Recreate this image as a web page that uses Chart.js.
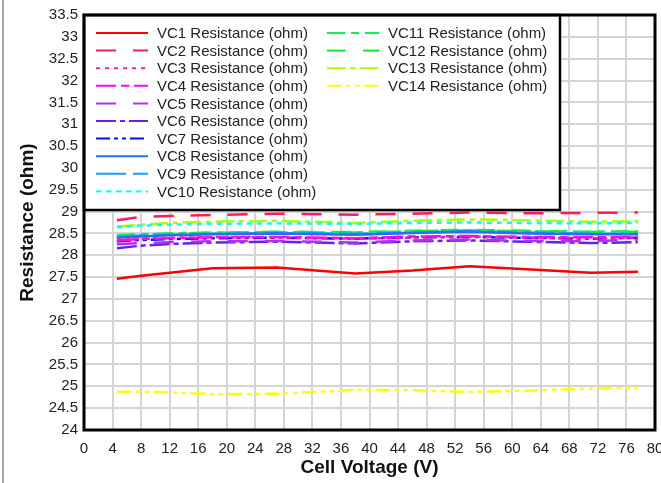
<!DOCTYPE html>
<html>
<head>
<meta charset="utf-8">
<script src="https://cdn.jsdelivr.net/npm/chart.js@4"></script>
<style>
  html, body { margin: 0; padding: 0; background: #fff; }
  #wrap { width: 661px; height: 483px; position: relative; }
</style>
</head>
<body>
<div id="wrap"><canvas id="chartResistencia" width="661" height="483"></canvas></div>
<script>
// voltajes de celda (eje x)
const voltajes = [4.6, 8, 12, 18, 27, 38, 46, 54, 62, 71, 77.6];

const vc1 = [27.46, 27.53, 27.6, 27.7, 27.72, 27.58, 27.65, 27.75, 27.68, 27.6, 27.62];
const vc2 = [28.8, 28.88, 28.9, 28.92, 28.95, 28.93, 28.95, 28.98, 28.96, 28.97, 28.98];
const vc3 = [28.36, 28.38, 28.4, 28.42, 28.41, 28.38, 28.4, 28.43, 28.4, 28.39, 28.4];
const vc4 = [28.34, 28.37, 28.39, 28.41, 28.42, 28.39, 28.43, 28.44, 28.42, 28.41, 28.42];
const vc5 = [28.25, 28.28, 28.3, 28.32, 28.33, 28.29, 28.34, 28.36, 28.33, 28.32, 28.36];
const vc6 = [28.16, 28.22, 28.26, 28.29, 28.31, 28.27, 28.32, 28.34, 28.31, 28.28, 28.3];
const vc7 = [28.32, 28.35, 28.37, 28.39, 28.4, 28.38, 28.41, 28.42, 28.4, 28.38, 28.4];
const vc8 = [28.4, 28.43, 28.46, 28.48, 28.5, 28.47, 28.51, 28.54, 28.5, 28.48, 28.48];
const vc9 = [28.42, 28.45, 28.47, 28.49, 28.51, 28.49, 28.52, 28.55, 28.52, 28.49, 28.49];
const vc10 = [28.64, 28.68, 28.7, 28.72, 28.73, 28.72, 28.74, 28.75, 28.74, 28.73, 28.74];
const vc11 = [28.46, 28.48, 28.5, 28.52, 28.53, 28.52, 28.55, 28.57, 28.55, 28.54, 28.55];
const vc12 = [28.44, 28.47, 28.49, 28.51, 28.54, 28.53, 28.56, 28.58, 28.56, 28.53, 28.53];
const vc13 = [28.66, 28.7, 28.74, 28.77, 28.79, 28.74, 28.79, 28.82, 28.8, 28.77, 28.78];
const vc14 = [24.87, 24.88, 24.86, 24.82, 24.83, 24.92, 24.91, 24.87, 24.9, 24.95, 24.97];

const series = [vc1, vc2, vc3, vc4, vc5, vc6, vc7, vc8, vc9, vc10, vc11, vc12, vc13, vc14];
const nombres = series.map((s, i) => `VC${i + 1} Resistance (ohm)`);

const colores = ['#ff0000', '#ff1a5e', '#ff1ab0', '#ff00ff', '#b030f0', '#6a1cff', '#0010ff',
                 '#2a6cff', '#10a0ff', '#00ffff', '#10f050', '#00f020', '#a8ff00', '#ffff00'];
const guiones = [[], [20, 17], [4, 5], [20, 5, 8, 5], [20, 17], [20, 4, 5, 4], [14, 4, 4, 4, 4, 4],
                 [], [30, 7], [5, 5], [18, 6, 8, 6], [18, 18], [18, 5, 5, 5], [14, 5, 4, 5, 4, 5]];

const fuente = '"Liberation Sans", Arial, sans-serif';

const canvas = document.getElementById('chartResistencia');
const ctx = canvas.getContext('2d');

const datasets = series.map((s, i) => ({
    label: nombres[i],
    data: s.map((v, j) => ({ x: voltajes[j], y: v })),
    borderColor: colores[i],
    backgroundColor: colores[i],
    borderWidth: 2.5,
    borderDash: guiones[i],
    pointRadius: 0,
    fill: false,
    tension: 0
}));

const fondoYmarco = {
    id: 'fondoYmarco',
    beforeDraw(chart) {
        const c = chart.ctx;
        c.save();
        c.fillStyle = '#fff';
        c.fillRect(0, 0, chart.width, chart.height);
        c.strokeStyle = '#888';
        c.lineWidth = 1.5;
        c.beginPath();
        c.moveTo(3, 0);
        c.lineTo(3, chart.height);
        c.stroke();
        c.restore();
    },
    afterDraw(chart) {
        const a = chart.chartArea;
        const c = chart.ctx;
        c.save();
        // leyenda
        const lx = a.left, ly = a.top, lw = 560 - a.left, lh = 210 - a.top;
        c.fillStyle = '#fff';
        c.fillRect(lx, ly, lw, lh);
        c.strokeStyle = '#000';
        c.lineWidth = 2.5;
        c.strokeRect(lx, ly, lw, lh);
        c.font = '15px ' + fuente;
        c.textBaseline = 'middle';
        chart.data.datasets.forEach((d, i) => {
            const col = i < 10 ? 0 : 1;
            const row = i < 10 ? i : i - 10;
            const y = 33 + row * 17.6;
            const x0 = col === 0 ? 96 : 327;
            c.strokeStyle = d.borderColor;
            c.lineWidth = 2;
            c.setLineDash(d.borderDash);
            c.beginPath();
            c.moveTo(x0, y);
            c.lineTo(x0 + 52, y);
            c.stroke();
            c.setLineDash([]);
            c.fillStyle = '#222';
            c.fillText(d.label, x0 + 61, y + 1);
        });
        // marco del area
        c.strokeStyle = '#000';
        c.lineWidth = 3;
        c.strokeRect(a.left, a.top, a.right - a.left, a.bottom - a.top);
        c.restore();
    }
};

const chartResistencia = new Chart(ctx, {
    type: 'line',
    data: { datasets: datasets },
    options: {
        responsive: false,
        animation: false,
        layout: { padding: { top: 15, right: 6, left: 0, bottom: 0 } },
        plugins: { legend: { display: false }, tooltip: { enabled: false } },
        scales: {
            x: {
                type: 'linear',
                min: 0,
                max: 80,
                ticks: { stepSize: 4, color: '#222', padding: 10, maxRotation: 0, font: { size: 15, family: fuente } },
                grid: { color: '#d4d4d4', lineWidth: 2, drawTicks: false },
                border: { display: false },
                title: { display: true, text: 'Cell Voltage (V)', color: '#111', padding: { top: 0, bottom: 4 },
                         font: { size: 19, weight: 'bold', family: fuente } },
                afterFit(s) { s.height = 53; s.paddingRight = 0; s.paddingLeft = 0; }
            },
            y: {
                min: 24,
                max: 33.5,
                ticks: { stepSize: 0.5, color: '#222', padding: 6, font: { size: 15, family: fuente },
                         callback: v => String(v) },
                grid: { color: '#d4d4d4', lineWidth: 2, drawTicks: false },
                border: { display: false },
                title: { display: true, text: 'Resistance (ohm)', color: '#111', padding: { top: 16, bottom: 0 },
                         font: { size: 19, weight: 'bold', family: fuente } },
                afterFit(s) { s.width = 84; s.paddingTop = 0; s.paddingBottom = 0; }
            }
        }
    },
    plugins: [fondoYmarco]
});
</script>
</body>
</html>
